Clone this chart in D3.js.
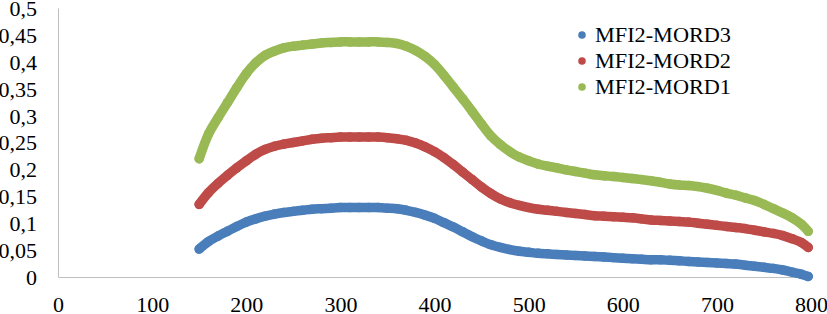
<!DOCTYPE html>
<html>
<head>
<meta charset="utf-8">
<script src="https://cdn.jsdelivr.net/npm/d3@7"></script>
<style>
  body { margin: 0; background: #fff; }
  text { font-family: "Liberation Serif", "Times New Roman", serif; fill: #000; }
</style>
</head>
<body>
<script>
// sample positions (x)
let xValues = [150, 160, 170, 180, 190, 200, 210, 220, 230, 240, 250, 260, 270, 280, 290,
  300, 310, 320, 330, 340, 350, 360, 370, 380, 390, 400, 410, 420, 430, 440, 450, 460, 470,
  480, 490, 500, 510, 520, 530, 540, 550, 560, 570, 580, 590, 600, 610, 620, 630, 640, 650,
  660, 670, 680, 690, 700, 710, 720, 730, 740, 750, 760, 770, 780, 790, 797];

let mord1 = [0.220, 0.266, 0.296, 0.324, 0.352, 0.378, 0.398, 0.412, 0.420, 0.426, 0.429,
  0.431, 0.433, 0.435, 0.436, 0.437, 0.437, 0.437, 0.437, 0.437, 0.436, 0.434, 0.429, 0.421,
  0.410, 0.395, 0.375, 0.353, 0.331, 0.308, 0.284, 0.262, 0.246, 0.233, 0.223, 0.216, 0.210,
  0.206, 0.203, 0.199, 0.196, 0.193, 0.190, 0.188, 0.187, 0.185, 0.183, 0.181, 0.179, 0.176,
  0.173, 0.171, 0.170, 0.168, 0.165, 0.161, 0.156, 0.152, 0.147, 0.142, 0.135, 0.127, 0.119,
  0.110, 0.098, 0.085];

let mord2 = [0.135, 0.157, 0.174, 0.189, 0.203, 0.216, 0.228, 0.237, 0.243, 0.247, 0.250,
  0.253, 0.256, 0.258, 0.259, 0.260, 0.260, 0.260, 0.260, 0.260, 0.259, 0.257, 0.254, 0.249,
  0.242, 0.233, 0.222, 0.209, 0.195, 0.181, 0.167, 0.155, 0.145, 0.138, 0.133, 0.129, 0.126,
  0.124, 0.122, 0.120, 0.118, 0.116, 0.114, 0.113, 0.112, 0.111, 0.110, 0.108, 0.106, 0.105,
  0.104, 0.103, 0.102, 0.100, 0.098, 0.096, 0.094, 0.092, 0.090, 0.087, 0.084, 0.081, 0.077,
  0.071, 0.064, 0.055];

let mord3 = [0.052, 0.066, 0.076, 0.085, 0.094, 0.102, 0.108, 0.113, 0.117, 0.120, 0.122,
  0.124, 0.126, 0.127, 0.128, 0.129, 0.129, 0.129, 0.129, 0.129, 0.128, 0.127, 0.124, 0.120,
  0.115, 0.109, 0.101, 0.093, 0.084, 0.075, 0.067, 0.060, 0.055, 0.051, 0.048, 0.046, 0.044,
  0.043, 0.042, 0.041, 0.040, 0.039, 0.038, 0.037, 0.036, 0.035, 0.034, 0.033, 0.032, 0.032,
  0.031, 0.030, 0.029, 0.028, 0.027, 0.026, 0.025, 0.024, 0.022, 0.020, 0.018, 0.016, 0.013,
  0.009, 0.005, 0.001];

let seriesNames = ['MFI2-MORD3', 'MFI2-MORD2', 'MFI2-MORD1'];
let seriesColors = ['#4a7ebb', '#be4b48', '#98b954'];
let xTicks = [0, 100, 200, 300, 400, 500, 600, 700, 800];
let yTicks = [0, 0.05, 0.1, 0.15, 0.2, 0.25, 0.3, 0.35, 0.4, 0.45, 0.5];

let svgWidth = 827, svgHeight = 314;
let plotLeft = 58, plotRight = 811, plotTop = 8, plotBottom = 277;

let svg = d3.select('body').append('svg')
    .attr('width', svgWidth).attr('height', svgHeight)

let xScale = d3.scaleLinear().domain([0, 800]).range([plotLeft, plotRight])
let yScale = d3.scaleLinear().domain([0, 0.5]).range([plotBottom, plotTop])

let fmt = d => String(+d.toFixed(2)).replace('.', ',')

// axes: gray lines, no tick marks
let yAxis = d3.axisLeft(yScale).tickValues(yTicks).tickSize(0).tickPadding(21).tickFormat(fmt)
let xAxis = d3.axisBottom(xScale).tickValues(xTicks).tickSize(0).tickPadding(19).tickFormat(d3.format('d'))

let gy = svg.append('g').attr('transform', 'translate(' + plotLeft + ',0)').call(yAxis)
let gx = svg.append('g').attr('transform', 'translate(0,' + plotBottom + ')').call(xAxis)

svg.selectAll('.domain').attr('stroke', '#bfbfbf').attr('stroke-width', 1)
svg.selectAll('.tick text').style('font-size', '22px').style('font-family', '"Liberation Serif", serif').attr('fill', '#000')
gy.selectAll('.tick text').attr('dy', '0.34em')
gx.selectAll('.tick text').attr('dy', '0.71em')

let series = [mord3, mord2, mord1];

let line = d3.line()
    .x((d, i) => xScale(xValues[i]))
    .y(d => yScale(d))
    .curve(d3.curveCatmullRom)

series.forEach((vals, s) => {
    let g = svg.append('g')
    g.append('path')
        .attr('d', line(vals))
        .attr('fill', 'none')
        .attr('stroke', seriesColors[s])
        .attr('stroke-width', 9.5)
        .attr('stroke-linecap', 'round')
        .attr('stroke-linejoin', 'round')
    g.selectAll('circle')
        .data(vals)
        .enter()
        .append('circle')
        .attr('cx', (d, i) => xScale(xValues[i]))
        .attr('cy', d => yScale(d))
        .attr('r', 4.75)
        .attr('fill', seriesColors[s])
})

// legend
let legend = svg.append('g').attr('transform', 'translate(582,35)')
seriesNames.forEach((name, i) => {
    let row = legend.append('g').attr('transform', 'translate(0,' + (i * 26) + ')')
    row.append('circle').attr('r', 3.8).attr('fill', seriesColors[i])
    row.append('text')
        .attr('x', 13).attr('y', 6.5)
        .style('font-size', '20px')
        .attr('textLength', 136)
        .attr('lengthAdjust', 'spacingAndGlyphs')
        .text(name)
})
</script>
</body>
</html>
